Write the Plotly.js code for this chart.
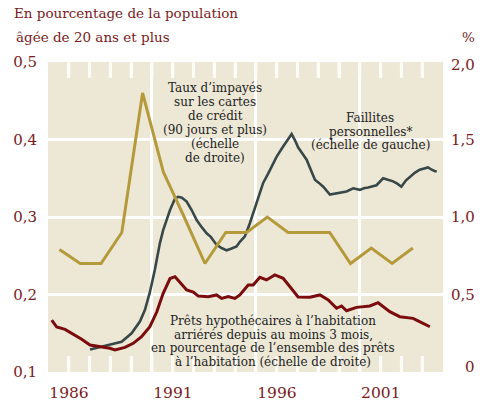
<!DOCTYPE html>
<html>
<head>
<meta charset="utf-8">
<script src="https://cdn.plot.ly/plotly-3.0.1.min.js"></script>
<style>html,body{margin:0;padding:0;background:#fff;}</style>
</head>
<body>
<div id="chart" style="width:483px;height:403px;"></div>
<script>
// ---- Data ----
const cardYears = [1986,1987,1988,1989,1990,1991,1992,1993,1994,1995,1996,1997,1998,1999,2000,2001,2002,2003];
const cardRate  = [0.79,0.70,0.70,0.90,1.80,1.29,1.00,0.70,0.90,0.90,1.00,0.90,0.90,0.90,0.70,0.80,0.70,0.80];

const bankX = [1988.02,1988.58,1989.14,1989.54,1990.02,1990.42,1990.66,1990.90,1991.14,1991.38,1991.54,1991.87,1992.11,1992.26,1992.44,1992.67,1992.91,1993.15,1993.36,1993.63,1993.84,1994.11,1994.35,1994.59,1994.80,1995.07,1995.23,1995.47,1995.71,1995.87,1996.03,1996.19,1996.35,1996.59,1997.00,1997.31,1997.49,1997.72,1997.88,1998.03,1998.21,1998.44,1998.64,1998.84,1999.03,1999.24,1999.56,1999.80,2000.04,2000.36,2000.68,2001.00,2001.19,2001.40,2001.80,2002.12,2002.35,2002.60,2002.80,2003.00,2003.21,2003.40,2003.64,2003.88,2004.08,2004.28,2004.46,2004.61,2004.70];
const bank  = [0.129,0.133,0.136,0.139,0.150,0.165,0.180,0.203,0.232,0.266,0.283,0.309,0.324,0.326,0.325,0.320,0.309,0.296,0.288,0.279,0.274,0.264,0.260,0.257,0.259,0.262,0.268,0.275,0.292,0.305,0.318,0.331,0.344,0.356,0.378,0.391,0.398,0.407,0.399,0.390,0.383,0.374,0.361,0.348,0.344,0.339,0.329,0.330,0.331,0.333,0.337,0.335,0.337,0.338,0.341,0.350,0.348,0.346,0.343,0.339,0.347,0.352,0.357,0.361,0.363,0.364,0.361,0.359,0.359];

const mortX = [1986.18,1986.42,1986.82,1987.30,1987.62,1988.02,1988.58,1988.98,1989.22,1989.51,1989.70,1990.10,1990.50,1990.90,1991.23,1991.54,1991.87,1992.11,1992.35,1992.67,1992.99,1993.23,1993.71,1994.11,1994.35,1994.67,1994.99,1995.23,1995.63,1995.87,1996.19,1996.51,1996.91,1997.31,1997.63,1998.03,1998.60,1999.08,1999.48,1999.88,2000.12,2000.36,2000.84,2001.48,2001.88,2002.44,2002.92,2003.56,2003.97,2004.37];
const mort  = [0.335,0.290,0.275,0.239,0.211,0.174,0.163,0.153,0.142,0.152,0.159,0.185,0.228,0.292,0.387,0.508,0.603,0.615,0.581,0.529,0.516,0.490,0.486,0.497,0.475,0.486,0.475,0.497,0.561,0.561,0.611,0.594,0.626,0.605,0.552,0.484,0.482,0.497,0.465,0.411,0.426,0.395,0.417,0.426,0.447,0.389,0.357,0.346,0.318,0.292];

const xTickVals  = [1986,1991,1996,2001];
const xTickText  = ['1986','1991','1996','2001'];
const yearTicks  = [1987,1988,1989,1990,1991,1992,1993,1994,1995,1996,1997,1998,1999,2000,2001,2002,2003,2004];
const leftTickVals  = [0.1,0.2,0.3,0.4,0.5];
const leftTickText  = ['0,1','0,2','0,3','0,4','0,5'];
const rightTickVals = [0,0.5,1.0,1.5,2.0];
const rightTickText = ['0','0,5','1,0','1,5','2,0'];

const titleLine1 = 'En pourcentage de la population';
const titleLine2 = 'âgée de 20 ans et plus';
const unitRight = '%';
const cardLabel = ['Taux d’impayés','sur les cartes','de crédit','(90 jours et plus)','(échelle','de droite)'];
const bankLabel = ['Faillites','personnelles*','(échelle de gauche)'];
const mortLabel = ['Prêts hypothécaires à l’habitation','arriérés depuis au moins 3 mois,','en pourcentage de l’ensemble des prêts','à l’habitation (échelle de droite)'];

// ---- Styling ----
const FONT = 'DejaVu Serif, serif';
const RED_TXT = '#7a1a1a';
const TXT = '#222222';
const BG = '#ede8d6';
const W = 483, H = 403;
const M = {l:48, r:40, t:62, b:31};
const PW = W - M.l - M.r, PH = H - M.t - M.b;
const px = x => (x - M.l) / PW;
const py = y => (H - M.b - y) / PH;
const Y_RANGE = [0.1, 0.5];
const TICK_PX = 16;
const TICK_FRAC = TICK_PX / PH;

const traces = [
  {x: cardYears.map(y => y + 0.55), y: cardRate, yaxis:'y2', type:'scatter', mode:'lines',
   line:{color:'#b59a3c', width:3}, hoverinfo:'skip'},
  {x: mortX, y: mort, yaxis:'y2', type:'scatter', mode:'lines',
   line:{color:'#7a0c0e', width:3}, hoverinfo:'skip'},
  {x: bankX, y: bank, yaxis:'y', type:'scatter', mode:'lines',
   line:{color:'#384848', width:2.6}, hoverinfo:'skip'}
];

const annotations = [];
function block(lines, cx, baselines, size, color){
  lines.forEach((t,i)=>annotations.push({text:t, x:px(cx), y:py(baselines[i]-4), xref:'paper', yref:'paper',
    xanchor:'center', yanchor:'middle', showarrow:false, font:{family:FONT, size:size, color:color}}));
}
block(cardLabel, 215, [92,106,120,134,148,162], 12, TXT);
block(bankLabel, 370, [122,135.5,149], 12, TXT);
block(mortLabel, 273, [325,338.5,352,365.5], 12, TXT);

annotations.push({text:titleLine2, x:px(14), y:py(37), xref:'paper', yref:'paper', xanchor:'left', yanchor:'middle',
  showarrow:false, font:{family:FONT, size:13.5, color:RED_TXT}});
annotations.push({text:unitRight, x:px(477), y:py(37), xref:'paper', yref:'paper', xanchor:'right', yanchor:'middle',
  showarrow:false, font:{family:FONT, size:13.5, color:RED_TXT}});
const rightShift = [5,0,0,0,-3];
rightTickVals.forEach((v,i)=>annotations.push({text:rightTickText[i], x:px(477), y:v, xref:'paper', yref:'y2',
  xanchor:'right', yanchor:'middle', yshift:rightShift[i], showarrow:false, font:{family:FONT, size:15, color:RED_TXT}}));

// white year tick marks at the bottom and top edges, placed through the x axis
const shapes = [];
yearTicks.forEach(yr => {
  shapes.push({type:'line', xref:'x', yref:'paper', x0:yr, x1:yr, y0:0, y1:TICK_FRAC, layer:'above',
               line:{color:'#fdfcf8', width:3}});
  shapes.push({type:'line', xref:'x', yref:'paper', x0:yr, x1:yr, y0:1 - TICK_FRAC, y1:1, layer:'above',
               line:{color:'#fdfcf8', width:3}});
});

const layout = {
  width:W, height:H, margin:M,
  paper_bgcolor:'#ffffff', plot_bgcolor:BG,
  font:{family:FONT, color:RED_TXT},
  showlegend:false,
  title:{text:titleLine1, x:14/W, xref:'container', xanchor:'left', y:1-9/H, yref:'container', yanchor:'top',
         font:{family:FONT, size:13.5, color:RED_TXT}},
  xaxis:{range:[1986,2005], tickmode:'array', tickvals:xTickVals, ticktext:xTickText,
         ticks:'inside', ticklen:TICK_PX, tickwidth:3, tickcolor:'#ffffff', mirror:'allticks',
         minor:{tickmode:'array', tickvals:yearTicks, ticks:'inside', ticklen:TICK_PX, tickwidth:3, tickcolor:'#ffffff', showgrid:false},
         showgrid:true, gridcolor:'#ffffff', gridwidth:3, zeroline:false, showline:false,
         fixedrange:true,
         tickfont:{family:FONT, size:15.5, color:RED_TXT}, ticklabelshift:21, ticklabelstandoff:9},
  yaxis:{range:Y_RANGE, tickmode:'array', tickvals:leftTickVals, ticktext:leftTickText,
         ticks:'', showgrid:true, gridcolor:'#ffffff', gridwidth:3, zeroline:false, showline:false,
         layer:'below traces', fixedrange:true, ticklabelstandoff:10,
         tickfont:{family:FONT, size:15, color:RED_TXT}},
  yaxis2:{range:[0,2], overlaying:'y', side:'right', showgrid:false, zeroline:false, showline:false,
          showticklabels:false, ticks:'', fixedrange:true},
  annotations:annotations,
  shapes:shapes
};

Plotly.newPlot('chart', traces, layout, {displayModeBar:false, staticPlot:true});
</script>
</body>
</html>
